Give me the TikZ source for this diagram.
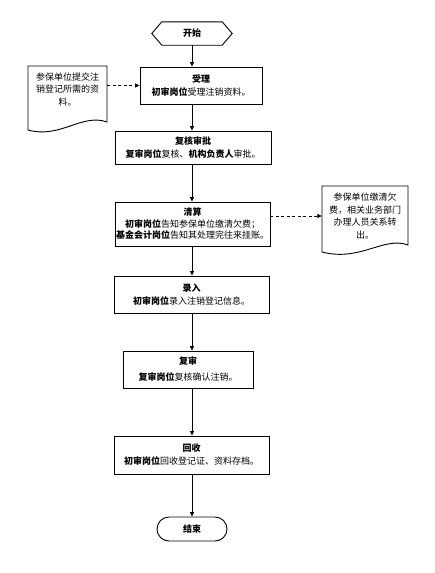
\documentclass[tikz,border=0pt]{standalone}
\usepackage{fontspec}
\setmainfont{Noto Sans CJK SC}
\usetikzlibrary{arrows.meta}

\begin{document}
\begin{tikzpicture}[x=1pt,y=-1pt,
  font=\fontsize{9}{13}\selectfont,
  box/.style={draw,line width=0.9pt,align=center,inner sep=1pt},
  note/.style={align=center,inner sep=0pt},
  arr/.style={line width=0.7pt,-{Triangle[length=4.5pt,width=4pt]}},
  darr/.style={arr,dash pattern=on 3pt off 2.5pt}]
		\useasboundingbox (0,0) rectangle (435,573);
		% main column
		\node [minimum width=80pt,minimum height=23pt,inner sep=0pt] (start) at (192,33.5) {\textbf{开始}};
		\draw [line width=0.9pt] (start.west) -- ([xshift=10pt]start.north west) -- ([xshift=-10pt]start.north east) -- (start.east) -- ([xshift=-10pt]start.south east) -- ([xshift=10pt]start.south west) -- cycle;
		\node [box,minimum width=122pt,minimum height=37pt] (shouli) at (201,85.5) {\textbf{受理}\\\textbf{初审岗位}受理注销资料。};
		\node [box,minimum width=156pt,minimum height=33pt] (fuhe) at (193,147.5) {\textbf{复核审批}\\\textbf{复审岗位}复核、\textbf{机构负责人}审批。};
		\node [box,minimum width=155pt,minimum height=44pt,font=\fontsize{9}{11.5}\selectfont] (qingsuan) at (192.5,224) {\textbf{清算}\\\textbf{初审岗位}告知参保单位缴清欠费；\\\textbf{基金会计岗位}告知其处理完往来挂账。};
		\node [box,minimum width=155pt,minimum height=37pt] (luru) at (191.5,294.5) {\textbf{录入}\\\textbf{初审岗位}录入注销登记信息。};
		\node [box,minimum width=130pt,minimum height=37pt,font=\fontsize{9}{16}\selectfont] (fushen) at (188,369.5) {\textbf{复审}\\\textbf{复审岗位}复核确认注销。};
		\node [box,minimum width=155pt,minimum height=38pt] (huishou) at (191.5,455) {\textbf{回收}\\\textbf{初审岗位}回收登记证、资料存档。};
		\node [box,rounded corners=12pt,minimum width=70pt,minimum height=24pt] (end) at (192,529) {\textbf{结束}};
		% side notes
		\node [note,minimum width=79pt,font=\fontsize{9}{12.5}\selectfont] (doc1) at (67.5,89.5) {参保单位提交注\\销登记所需的资\\料。};
		\draw [line width=0.9pt] (28,66) -- (107,66) -- (107,122) .. controls (82,113) and (60,139) .. (28,130) -- cycle;
		\node [note,minimum width=86pt,font=\fontsize{9}{12.5}\selectfont] (doc2) at (365,216) {参保单位缴清欠\\费，相关业务部门\\办理人员关系转\\出。};
		\draw [line width=0.9pt] (322,186) -- (408,186) -- (408,245) .. controls (384,236) and (360,262) .. (322,252) -- cycle;
		% arrows
		\draw [arr] (start.south) -- (start |- shouli.north);
		\draw [arr] (start |- shouli.south) -- (start |- fuhe.north);
		\draw [arr] (start |- fuhe.south) -- (start |- qingsuan.north);
		\draw [arr] (start |- qingsuan.south) -- (start |- luru.north);
		\draw [arr] (start |- luru.south) -- (start |- fushen.north);
		\draw [arr] (start |- fushen.south) -- (start |- huishou.north);
		\draw [arr] (start |- huishou.south) -- (end.north);
		\draw [darr] (doc1.east |- shouli.west) -- (shouli.west);
		\draw [darr] (qingsuan.east |- doc2.west) -- (doc2.west);
\end{tikzpicture}
\end{document}
